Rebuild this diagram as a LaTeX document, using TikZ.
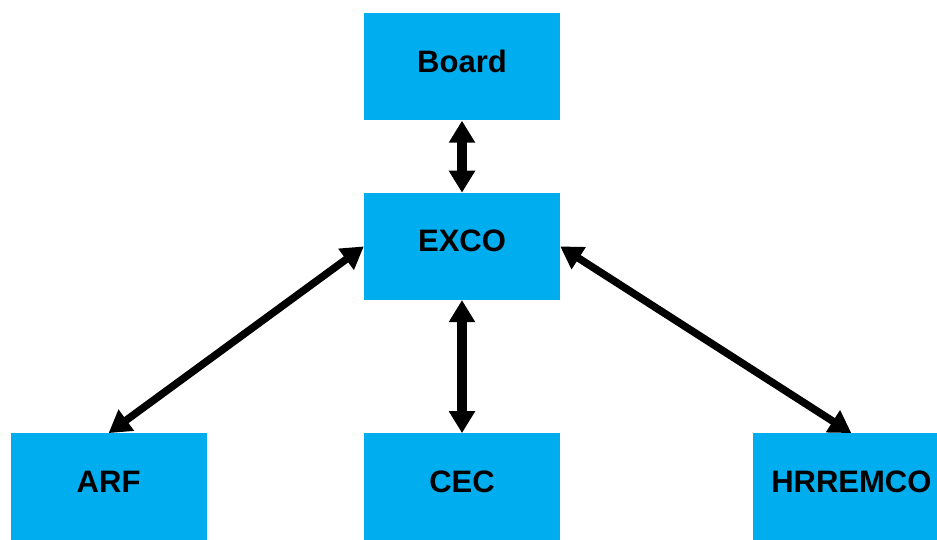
\documentclass[tikz,border=0pt]{standalone}
\usepackage{fontspec}
\setmainfont{Liberation Sans}
\usetikzlibrary{positioning,arrows.meta}
\definecolor{boxblue}{HTML}{00AEEF}

\begin{document}
\begin{tikzpicture}[node distance=72pt, box/.style={fill=boxblue,minimum width=196pt,minimum height=107pt,align=center,text height=23pt,text depth=12pt,font=\fontsize{31}{36}\selectfont\bfseries}, arr/.style={{Triangle[length=22pt,width=25pt]}-{Triangle[length=22pt,width=25pt]},line width=7.5pt}]
\useasboundingbox (0,0) rectangle (937pt,-540pt);
\clip (0,0) rectangle (937pt,-540pt);
\node[box] (board) at (462pt,-67pt) {Board};
\node[box,below=of board] (exco) {EXCO};
\node[box,below=133pt of exco] (cec) {CEC};
\node[box,left=157pt of cec] (arf) {ARF};
\node[box,right=193pt of cec] (hrremco) {HRREMCO};
\draw[arr,line width=10pt] (board) -- (exco);
\draw[arr,line width=10pt] (exco) -- (cec);
\draw[arr] (exco.west) -- (arf.north);
\draw[arr] (exco.east) -- (hrremco.north);
\end{tikzpicture}
\end{document}
